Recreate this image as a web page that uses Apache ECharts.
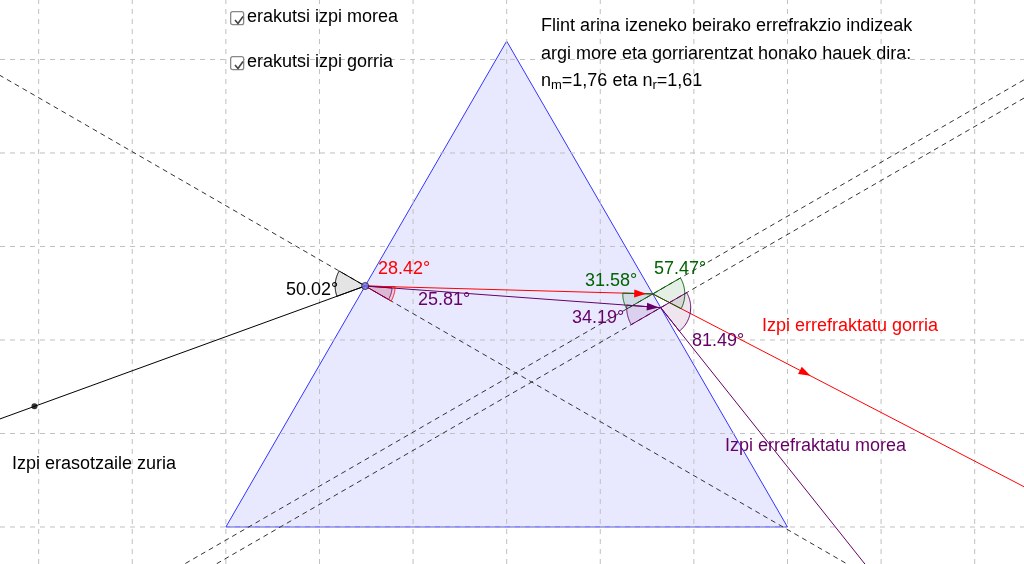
<!DOCTYPE html>
<html><head><meta charset="utf-8">
<script src="https://cdn.jsdelivr.net/npm/echarts@6/dist/echarts.min.js"></script>
<style>html,body{margin:0;padding:0;background:#fff}#c{width:1024px;height:564px}</style>
</head><body><div id="c"></div>
<script>
// world units: one grid cell = 1
var gridXs = [0,1,2,3,4,5,6,7,8,9,10];
var gridYs = [0,1,2,3,4,5];
var prism = [[2,0],[5,5.196],[8,0]];
var entryT = 0.496;               // fraction along left face
var incidentAngle = [50.02];      // deg to normal
var refrRed = [28.42, 31.58, 57.47];
var refrViolet = [25.81, 34.19, 81.49];
var nm = 1.76, nr = 1.61;

var XMIN=-0.413, XMAX=10.527, YMIN=-0.396, YMAX=5.636;
function add(p,d,s){return [p[0]+d[0]*s,p[1]+d[1]*s];}
function dir(a){var r=a*Math.PI/180;return [Math.cos(r),Math.sin(r)];}
function hitRight(p,d){
  var A=prism[2], e=[prism[1][0]-A[0],prism[1][1]-A[1]];
  var det=d[0]*(-e[1])-d[1]*(-e[0]);
  var bx=A[0]-p[0], by=A[1]-p[1];
  var s=(bx*(-e[1])-by*(-e[0]))/det;
  return add(p,d,s);
}
var L=prism[0], T=prism[1];
var P=[L[0]+(T[0]-L[0])*entryT, L[1]+(T[1]-L[1])*entryT];
var dInc=dir(-30+incidentAngle[0]);
var dRin=dir(-30+refrRed[0]), dVin=dir(-30+refrViolet[0]);
var Qr=hitRight(P,dRin), Qv=hitRight(P,dVin);
var dRout=dir(30-refrRed[2]), dVout=dir(30-refrViolet[2]);
var src=add(P,dInc,-3.76);

var series=[];
function seg(a,b,color,width,type){
  series.push({type:'line',data:[a,b],showSymbol:false,silent:true,clip:true,
    lineStyle:{color:color,width:width||1,type:type||'solid'},z:3});
}
gridXs.forEach(function(x){seg([x,YMIN],[x,YMAX],'#c0c0c0',1,[5,5]);});
gridYs.forEach(function(y){seg([XMIN,y],[XMAX,y],'#c0c0c0',1,[5,5]);});
series.push({type:'custom',data:[0],z:2,renderItem:function(p,api){
  return {type:'polygon',shape:{points:prism.map(function(q){return api.coord(q);})},
    style:{fill:'rgba(0,0,255,0.09)',stroke:'#3333ff',lineWidth:1}};}});
var dn=dir(-30), dn2=dir(30);
seg(add(P,dn,-20),add(P,dn,20),'#333',1,[5,4]);
seg(add(Qr,dn2,-20),add(Qr,dn2,20),'#333',1,[5,4]);
seg(add(Qv,dn2,-20),add(Qv,dn2,20),'#333',1,[5,4]);
seg(add(P,dInc,-10),P,'#000',1);
seg(P,Qr,'#ff0000',1);
seg(P,Qv,'#660066',1);
seg(Qr,add(Qr,dRout,20),'#ff0000',1);
seg(Qv,add(Qv,dVout,20),'#660066',1);
var sectors=[
 [P,150,150+incidentAngle[0],30,'#000','rgba(120,120,120,0.2)'],
 [P,-30,-30+refrRed[0],30,'#ff0000','rgba(255,0,0,0.12)'],
 [P,-30,-30+refrViolet[0],27,'#660066','rgba(102,0,102,0.1)'],
 [Qr,210-refrRed[1],210,30,'#006400','rgba(0,100,0,0.1)'],
 [Qr,30-refrRed[2],30,32,'#006400','rgba(0,100,0,0.1)'],
 [Qv,210-refrViolet[1],210,34,'#660066','rgba(102,0,102,0.1)'],
 [Qv,30-refrViolet[2],30,30,'#660066','rgba(102,0,102,0.1)']
];
series.push({type:'custom',data:sectors.map(function(s,i){return i;}),z:4,renderItem:function(p,api){
  var s=sectors[p.dataIndex], c=api.coord(s[0]), pts=[c];
  for(var k=0;k<=40;k++){var a=(s[1]+(s[2]-s[1])*k/40)*Math.PI/180;pts.push([c[0]+s[3]*Math.cos(a),c[1]-s[3]*Math.sin(a)]);}
  pts.push(c);
  return {type:'polygon',shape:{points:pts},style:{fill:s[5],stroke:s[4],lineWidth:1}};}});
var arrows=[[add(Qr,dRin,-0.07),-30+refrRed[0],'#ff0000'],[add(Qv,dVin,-0.02),-30+refrViolet[0],'#660066'],
  [add(Qr,dRout,1.9),30-refrRed[2],'#ff0000']];
series.push({type:'custom',data:arrows.map(function(a,i){return i;}),z:5,renderItem:function(p,api){
  var a=arrows[p.dataIndex], c=api.coord(a[0]), r=a[1]*Math.PI/180, ux=Math.cos(r), uy=-Math.sin(r);
  var b=[c[0]-12*ux,c[1]-12*uy];
  return {type:'polygon',shape:{points:[c,[b[0]-4*uy,b[1]+4*ux],[b[0]+4*uy,b[1]-4*ux]]},style:{fill:a[2]}};}});
series.push({type:'scatter',data:[src],symbolSize:6,itemStyle:{color:'#000'},z:6,silent:true});
series.push({type:'scatter',data:[P],symbolSize:7,itemStyle:{color:'#7777ff',borderColor:'#222',borderWidth:1},z:6,silent:true});

var F='Liberation Sans, Arial, sans-serif';
function txt(x,y,t,c){return {type:'text',left:x,top:y,z:10,style:{text:t,fill:c||'#000',font:'18px '+F}};}
function cb(x,y){return [{type:'rect',left:x,top:y,z:10,shape:{width:13,height:13,r:2},style:{fill:'#fff',stroke:'#888',lineWidth:1.3}},
 {type:'polyline',left:x+2.5,top:y+3,z:11,shape:{points:[[0,3.5],[3,7],[8,0]]},style:{stroke:'#444',lineWidth:1.6,fill:null}}];}
var graphics=[].concat(cb(230,11),cb(230,56),[
 txt(247,8,'erakutsi izpi morea'),txt(247,53,'erakutsi izpi gorria'),
 txt(541,17,'Flint arina izeneko beirako errefrakzio indizeak'),
 txt(541,45,'argi more eta gorriarentzat honako hauek dira:'),
 {type:'text',left:541,top:72,z:10,style:{rich:{n:{font:'18px '+F,fill:'#000'},s:{font:'13px '+F,fill:'#000',padding:[9,0,0,0]}},
   text:'{n|n}{s|m}{n|='+String(nm).replace('.',',')+' eta n}{s|r}{n|='+String(nr).replace('.',',')+'}'}},
 txt(286,281,incidentAngle[0].toFixed(2)+'°'),
 txt(378,260,refrRed[0].toFixed(2)+'°','#ff0000'),
 txt(418,291,refrViolet[0].toFixed(2)+'°','#660066'),
 txt(585,272,refrRed[1].toFixed(2)+'°','#006400'),
 txt(654,260,refrRed[2].toFixed(2)+'°','#006400'),
 txt(572,309,refrViolet[1].toFixed(2)+'°','#660066'),
 txt(692,332,refrViolet[2].toFixed(2)+'°','#660066'),
 txt(762,317,'Izpi errefraktatu gorria','#ff0000'),
 txt(725,437,'Izpi errefraktatu morea','#660066'),
 txt(12,455,'Izpi erasotzaile zuria')
]);
var ch=echarts.init(document.getElementById('c'));
ch.setOption({animation:false,
 grid:{left:0,right:0,top:0,bottom:0},
 xAxis:{type:'value',min:XMIN,max:XMAX,show:false},
 yAxis:{type:'value',min:YMIN,max:YMAX,show:false},
 series:series,graphic:graphics});
</script></body></html>
